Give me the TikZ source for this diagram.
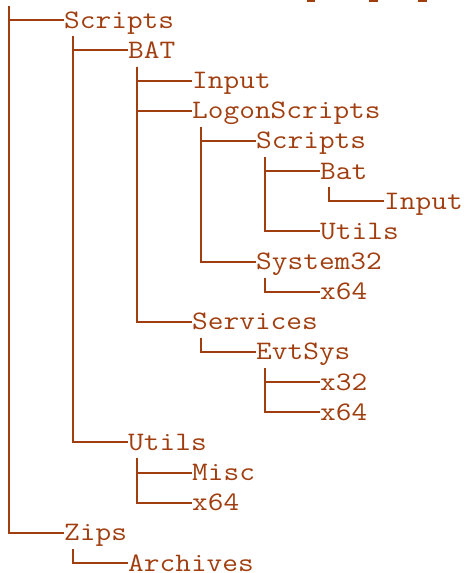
\documentclass[tikz,border=0pt]{standalone}
\usepackage{fontspec}
\usetikzlibrary{positioning, calc}
\definecolor{treebrown}{RGB}{160,62,16}
\tikzset{
  dir/.style={anchor=base west, inner sep=0pt, text height=18pt, text depth=2pt,
    xscale=1.143, transform shape, text=treebrown,
    font=\ttfamily\fontsize{26.67}{30}\selectfont},
  branch/.style={draw=treebrown, line width=2pt},
  down/.style={shift={(9pt,-5.85pt)}}
}

\begin{document}
\begin{tikzpicture}[x=16pt,y=-30.15pt]
\path[use as bounding box] (0pt,0pt) rectangle (466pt,-573pt);
\coordinate (top) at (0,0.199);
\node[dir] (scripts) at (4,0.939) {Scripts};
\node[dir] (bat) at (8,1.939) {BAT};
\node[dir] (batinput) at (12,2.939) {Input};
\node[dir] (logon) at (12,3.939) {LogonScripts};
\node[dir] (lscripts) at (16,4.939) {Scripts};
\node[dir] (lsbat) at (20,5.939) {Bat};
\node[dir] (lsbatinput) at (24,6.939) {Input};
\node[dir] (lsutils) at (20,7.939) {Utils};
\node[dir] (system) at (16,8.939) {System32};
\node[dir] (sysx) at (20,9.939) {x64};
\node[dir] (services) at (12,10.939) {Services};
\node[dir] (evtsys) at (16,11.939) {EvtSys};
\node[dir] (evtx32) at (20,12.939) {x32};
\node[dir] (evtx64) at (20,13.939) {x64};
\node[dir] (utils) at (8,14.939) {Utils};
\node[dir] (misc) at (12,15.939) {Misc};
\node[dir] (utilsx) at (12,16.939) {x64};
\node[dir] (zips) at (4,17.939) {Zips};
\node[dir] (archives) at (8,18.939) {Archives};

\draw[branch] ([xshift=9pt]top) |- (scripts.west);
\draw[branch] ([xshift=9pt]top) |- (zips.west);
\draw[branch] ([down]scripts.south west) |- (bat.west);
\draw[branch] ([down]scripts.south west) |- (utils.west);
\draw[branch] ([down]bat.south west) |- (batinput.west);
\draw[branch] ([down]bat.south west) |- (logon.west);
\draw[branch] ([down]bat.south west) |- (services.west);
\draw[branch] ([down]logon.south west) |- (lscripts.west);
\draw[branch] ([down]logon.south west) |- (system.west);
\draw[branch] ([down]lscripts.south west) |- (lsbat.west);
\draw[branch] ([down]lscripts.south west) |- (lsutils.west);
\draw[branch] ([down]lsbat.south west) |- (lsbatinput.west);
\draw[branch] ([down]system.south west) |- (sysx.west);
\draw[branch] ([down]services.south west) |- (evtsys.west);
\draw[branch] ([down]evtsys.south west) |- (evtx32.west);
\draw[branch] ([down]evtsys.south west) |- (evtx64.west);
\draw[branch] ([down]utils.south west) |- (misc.west);
\draw[branch] ([down]utils.south west) |- (utilsx.west);
\draw[branch] ([down]zips.south west) |- (archives.west);

\fill[treebrown] (307pt,0pt) rectangle (315pt,-1.8pt);
\fill[treebrown] (369pt,0pt) rectangle (378pt,-1.8pt);
\fill[treebrown] (418pt,0pt) rectangle (427pt,-1.8pt);
\end{tikzpicture}
\end{document}
